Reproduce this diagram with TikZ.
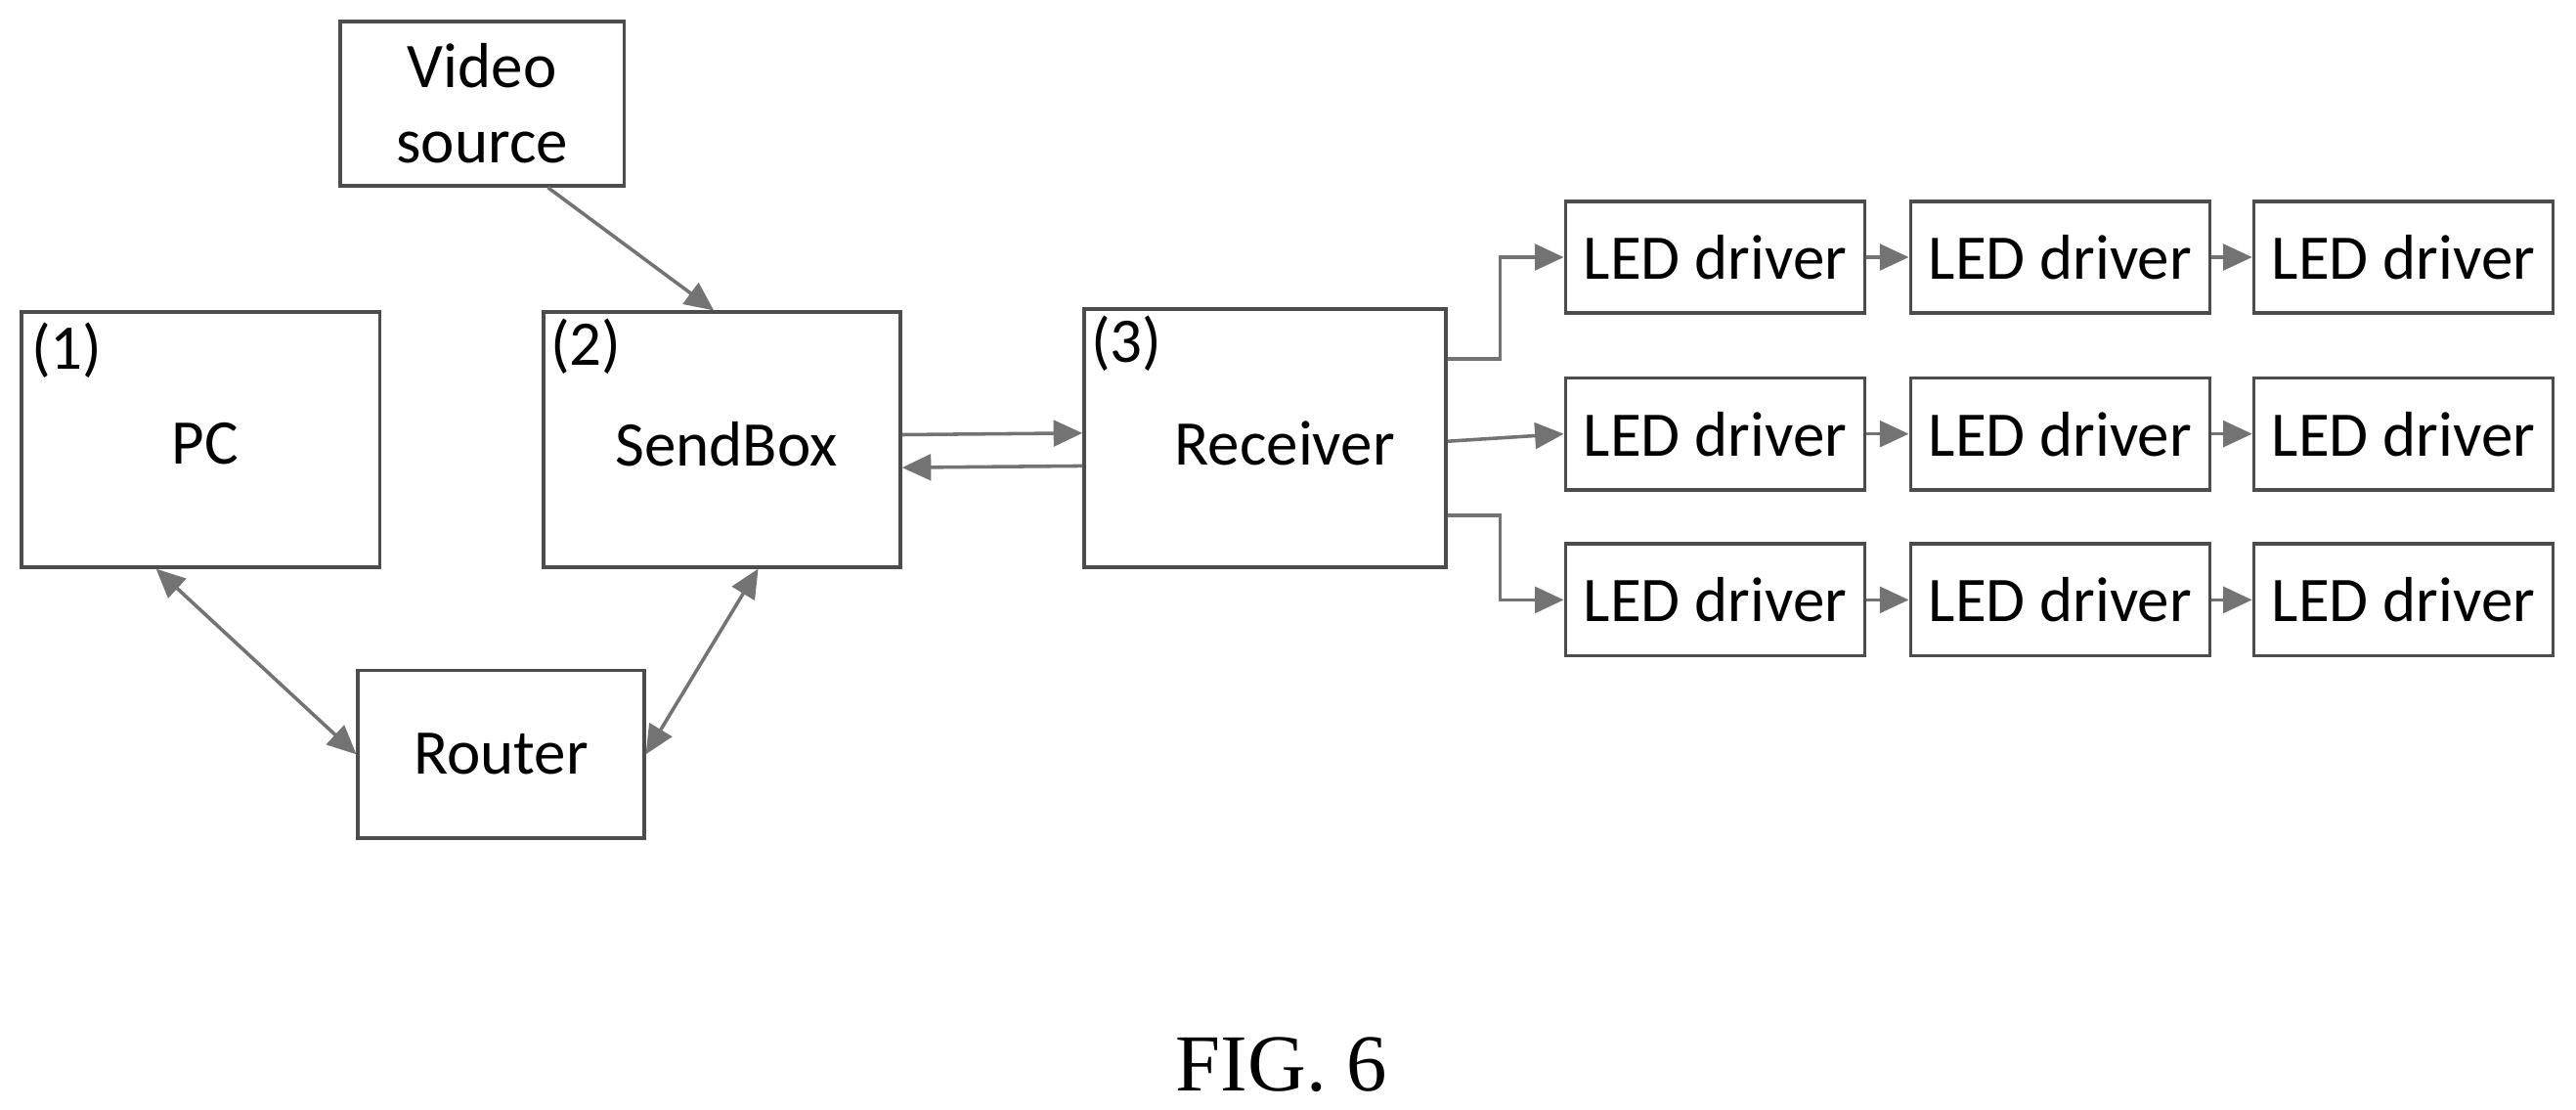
\documentclass[tikz,border=0pt]{standalone}
\usepackage{fontspec}
\setmainfont{Carlito}
\newfontfamily\figfont{Liberation Serif}
\usetikzlibrary{arrows.meta,calc}
\begin{document}
\begin{tikzpicture}[x=0.01cm,y=-0.01cm,
  box/.style={draw=black!70,line width=0.6pt,inner sep=0pt,font=\fontsize{11pt}{13pt}\selectfont,align=center},
  con/.style={draw=black!55,line width=0.6pt,-{Triangle[length=5pt,width=4.5pt]}},
  bi/.style={draw=black!55,line width=0.6pt,{Triangle[length=5pt,width=4.5pt]}-{Triangle[length=5pt,width=4.5pt]}},
  lab/.style={font=\fontsize{11pt}{13pt}\selectfont,anchor=north west,inner sep=1pt}]
\useasboundingbox (0,0) rectangle (1568,675);
\fill[white] (0,0) rectangle (1568,675);
\node[box,minimum width=1.73cm,minimum height=1.0cm] (vid) at (293.5,63) {Video\\source};
\node[box,minimum width=2.18cm,minimum height=1.55cm] (pc) at (122,267.5) {};
\node[box,minimum width=2.17cm,minimum height=1.55cm] (sb) at (439.5,267.5) {};
\node[box,minimum width=1.74cm,minimum height=1.02cm] (rt) at (305,459) {Router};
\node[box,minimum width=2.20cm,minimum height=1.57cm] (rx) at (770,266.5) {};
\node[font=\fontsize{11pt}{13pt}\selectfont] (tpc) at (125,270) {PC};
\node[font=\fontsize{11pt}{13pt}\selectfont] (tsb) at (442,270) {SendBox};
\node[font=\fontsize{11pt}{13pt}\selectfont] (trx) at (782,270) {Receiver};
\node[lab] (l1) at ($(pc.north west)+(3,3)$) {(1)};
\node[lab] (l2) at ($(sb.north west)+(1,1)$) {(2)};
\node[lab] (l3) at ($(rx.north west)+(1,1)$) {(3)};
\foreach \r/\y in {1/156.5,2/264,3/365}{
  \foreach \c/\x in {1/1044,2/1254,3/1463}{
    \node[box,minimum width=1.82cm,minimum height=0.68cm] (d\r\c) at (\x,\y) {LED driver};
  }
  \draw[con] (d\r1) -- (d\r2);
  \draw[con] (d\r2) -- (d\r3);
}
\draw[con] ($(vid.south)+(40,0)$) -- ($(sb.north)+(-5,0)$);
\draw[bi] ($(pc.south)+(-27,0)$) -- (rt.west);
\draw[bi] (rt.east) -- ($(sb.south)+(22,0)$);
\draw[con] ($(sb.east)+(0,-3)$) -- ($(rx.west)+(0,-3)$);
\draw[con] ($(rx.west)+(0,17)$) -- ($(sb.east)+(0,17)$);
\draw[con] ($(rx.east)+(0,-48)$) -| (913,156.5) -- (d11.west);
\draw[con] ($(rx.east)+(0,2)$) -- (d21.west);
\draw[con] ($(rx.east)+(0,47)$) -| (913,365) -- (d31.west);
\node[font=\figfont\fontsize{14pt}{16pt}\selectfont] (fig) at (780,648) {FIG. 6};
\end{tikzpicture}
\end{document}
